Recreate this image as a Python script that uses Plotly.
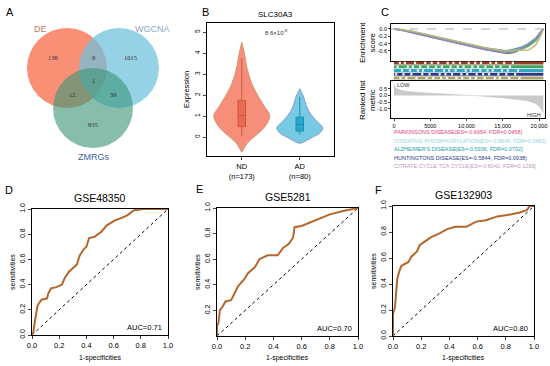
import plotly.graph_objects as go

W, H = 550, 366
def px(x): return x / W
def py(y): return 1 - y / H

FONT = "Liberation Sans"

# ---------------- Panel A: Venn ----------------
venn_sets = ["DE", "WGCNA", "ZMRGs"]
venn_region_counts = [138, 9, 1015, 1, 12, 39, 835]

# ---------------- Panel B: violin ----------------
groups = ["ND", "AD"]
group_n = [173, 80]
# density profile: expression level -> half width (px)
nd_levels = [-0.71, -0.56, -0.32, -0.08, 0.24, 0.63, 1.03, 1.43, 1.9, 2.54, 3.33, 3.97, 4.52]
nd_halfw = [0, 2, 5, 10, 18, 25, 28, 23, 17, 10, 5, 2.7, 0]
ad_levels = [-0.29, -0.16, 0.0, 0.19, 0.44, 0.71, 1.03, 1.43, 1.9, 2.3]
ad_halfw = [0, 7, 13, 20, 23, 18, 12, 7, 4, 0]
box_q1 = [0.5, 0.29]
box_median = [1.03, 0.6]
box_q3 = [1.75, 0.95]
box_low = [0.08, 0.13]
box_high = [3.73, 1.9]
p_value_text = "8.6×10<sup>-8</sup>"

# ---------------- Panel C: GSEA ----------------
gsea_names = ["PARKINSONS DISEASE", "OXIDATIVE PHOSPHORYLATION", "ALZHEIMER'S DISEASE",
              "HUNTINGTONS DISEASE", "CITRATE CYCLE TCA CYCLE"]
gsea_es = [-0.6654, -0.6646, -0.5936, -0.5844, -0.6042]
gsea_fdr = [0.0458, 0.0463, 0.0702, 0.0938, 0.1293]
es_ranks = [0, 1000, 2500, 5000, 7500, 10000, 12500, 15000, 15800, 16500, 17500, 18500, 19500, 20200, 20600]
es_curves = [
    [0, -0.03, -0.10, -0.22, -0.34, -0.45, -0.56, -0.65, -0.665, -0.64, -0.56, -0.45, -0.30, -0.12, 0.0],
    [0, -0.02, -0.08, -0.19, -0.31, -0.42, -0.53, -0.62, -0.64, -0.62, -0.55, -0.48, -0.33, -0.15, 0.0],
    [0, -0.02, -0.07, -0.18, -0.30, -0.41, -0.52, -0.58, -0.59, -0.55, -0.50, -0.42, -0.28, -0.10, 0.0],
    [0, -0.03, -0.09, -0.21, -0.33, -0.44, -0.55, -0.63, -0.62, -0.58, -0.52, -0.40, -0.26, -0.08, 0.0],
    [0, -0.01, -0.06, -0.17, -0.29, -0.40, -0.51, -0.59, -0.60, -0.58, -0.58, -0.58, -0.45, -0.20, 0.0],
]
hit_gaps = [
    [800, 1500, 2900, 4300, 5200, 6100, 7400, 8200, 9100, 10300, 11200, 12000, 13300, 14100, 15200, 16400],
    [500, 1900, 2600, 3600, 4700, 5800, 6600, 7800, 8800, 9600, 10800, 11600, 12600, 13800, 14700, 16000],
    [1100, 2200, 3300, 4000, 5500, 6900, 7600, 8500, 9900, 10600, 11900, 12900, 13600, 14900, 15700, 17100],
    [300, 1300, 2400, 3900, 4900, 6300, 7100, 8000, 9300, 10100, 11400, 12300, 13100, 14400, 15500, 16700],
    [900, 1700, 3100, 4500, 5400, 6500, 7300, 8600, 9400, 10500, 11300, 12500, 13900, 14600, 15900, 17300],
]
rank_x = [0, 200, 600, 1500, 3000, 5000, 7500, 10000, 11000, 12500, 15000, 17000, 18500, 19500, 20000, 20400, 20600]
rank_metric = [0.85, 0.6, 0.45, 0.33, 0.25, 0.17, 0.08, 0.02, 0.0, -0.05, -0.18, -0.3, -0.42, -0.6, -0.8, -1.1, -1.3]

# ---------------- Panels D-F: ROC ----------------
roc_titles = ["GSE48350", "GSE5281", "GSE132903"]
roc_auc = [0.71, 0.70, 0.80]
roc_fpr = [
    [0, 0.01, 0.02, 0.03, 0.04, 0.05, 0.07, 0.11, 0.12, 0.14, 0.18, 0.22, 0.24, 0.27, 0.30, 0.33, 0.35, 0.38, 0.40, 0.42, 0.46, 0.51, 0.55, 0.61, 0.66, 0.70, 0.75, 0.82, 1.0],
    [0, 0, 0.01, 0.02, 0.04, 0.06, 0.10, 0.13, 0.15, 0.19, 0.22, 0.27, 0.30, 0.36, 0.43, 0.47, 0.51, 0.54, 0.55, 0.60, 0.67, 0.74, 0.80, 0.91, 0.98, 1.0],
    [0, 0, 0.014, 0.02, 0.03, 0.045, 0.06, 0.11, 0.13, 0.17, 0.19, 0.23, 0.27, 0.33, 0.38, 0.44, 0.52, 0.59, 0.66, 0.74, 0.81, 0.90, 0.95, 0.97, 1.0],
]
roc_tpr = [
    [0, 0.02, 0.10, 0.16, 0.23, 0.25, 0.28, 0.29, 0.33, 0.37, 0.38, 0.40, 0.45, 0.50, 0.53, 0.56, 0.63, 0.68, 0.70, 0.77, 0.78, 0.82, 0.87, 0.91, 0.93, 0.95, 0.99, 1.0, 1.0],
    [0, 0.08, 0.10, 0.20, 0.23, 0.27, 0.28, 0.35, 0.39, 0.44, 0.49, 0.54, 0.60, 0.63, 0.63, 0.69, 0.72, 0.77, 0.85, 0.86, 0.89, 0.92, 0.95, 0.98, 1.0, 1.0],
    [0, 0.17, 0.22, 0.30, 0.44, 0.50, 0.54, 0.57, 0.61, 0.65, 0.70, 0.73, 0.76, 0.79, 0.82, 0.84, 0.84, 0.88, 0.89, 0.92, 0.93, 0.95, 0.97, 1.0, 1.0],
]

fig = go.Figure()
layout = dict(template="none", width=W, height=H, autosize=False,
              margin=dict(l=0, r=0, t=0, b=0, pad=0, autoexpand=False),
              paper_bgcolor="white", plot_bgcolor="white", showlegend=False,
              font=dict(family=FONT, color="black"))
shapes, annotations = [], []

def ann(x, y, text, size, color="black", ref=("paper", "paper"), **kw):
    fam = kw.pop("family", FONT)
    kw.setdefault("xanchor", "center")
    kw.setdefault("yanchor", "middle")
    annotations.append(dict(x=x, y=y, text=text, showarrow=False, xref=ref[0], yref=ref[1],
                            font=dict(size=size, color=color, family=fam), **kw))

AX = dict(automargin=False, showgrid=False, zeroline=False)

# ---------- A: Venn (axis 1, pixel-like coords) ----------
layout["xaxis"] = dict(domain=[0, px(180)], range=[0, 180], visible=False, fixedrange=True, **AX)
layout["yaxis"] = dict(domain=[py(180), py(0)], range=[180, 0], visible=False, fixedrange=True, **AX)
venn_circles = [((67, 68), "rgba(248,120,88,0.82)"), ((119, 68), "rgba(110,192,220,0.72)"),
                ((93, 108), "rgba(60,150,120,0.62)")]
for (cx, cy), col in venn_circles:
    shapes.append(dict(type="circle", xref="x", yref="y", x0=cx - 40, x1=cx + 40, y0=cy - 40, y1=cy + 40,
                       fillcolor=col, line=dict(width=0), layer="above"))
venn_label_pos = [(40, 29, "#C57A5E"), (152, 29, "#8FA6C8"), (93, 157, "#3F62A6")]
for name, (x, y, c) in zip(venn_sets, venn_label_pos):
    ann(x, y, name, 9, c, ref=("x", "y"))
count_pos = [(53, 57), (93, 57), (130, 57), (93, 80), (72, 94), (113, 94), (93, 124)]
for n, (x, y) in zip(venn_region_counts, count_pos):
    ann(x, y, str(n), 6.5, "#333333", ref=("x", "y"), family="Liberation Serif")

# ---------- B: violin (axis 2, boxes on overlaying axis 9) ----------
ppu = 58.0
vx_dom = [px(207), px(334)]
vy_dom = [py(156), py(23)]
vx_rng = [0.4, 2.59]
vy_rng = [-0.9, 5.43]
layout["xaxis2"] = dict(domain=vx_dom, range=vx_rng, anchor="y2",
                        tickvals=[1, 2], ticktext=[f"{g}<br>(n={n})" for g, n in zip(groups, group_n)],
                        showline=True, mirror=True, linecolor="black", linewidth=1, ticks="outside",
                        ticklen=3, tickfont=dict(size=7.5), **AX)
layout["yaxis2"] = dict(domain=vy_dom, range=vy_rng, anchor="x2",
                        tickvals=[0, 1, 2, 3, 4, 5], tickangle=-90, ticks="outside", ticklen=3,
                        tickfont=dict(size=6.5), showline=True, mirror=True, linecolor="black",
                        linewidth=1, **AX)
layout["xaxis9"] = dict(domain=vx_dom, range=vx_rng, anchor="y9", overlaying="x2", visible=False, **AX)
layout["yaxis9"] = dict(domain=vy_dom, range=vy_rng, anchor="x9", overlaying="y2", visible=False, **AX)
vio_styles = [("rgba(246,132,110,0.92)", "#CF9A72", "#EC6A50", "#C85A40"),
              ("rgba(108,198,224,0.92)", "#8C9AD0", "#27A8D0", "#1E8CB0")]
for i, (lev, hw) in enumerate([(nd_levels, nd_halfw), (ad_levels, ad_halfw)]):
    c = i + 1
    xs = [c + w / ppu for w in hw] + [c - w / ppu for w in hw[::-1]]
    ys = list(lev) + list(lev[::-1])
    fill, line, bfill, bline = vio_styles[i]
    fig.add_trace(go.Scatter(x=xs, y=ys, xaxis="x2", yaxis="y2", mode="lines", fill="toself",
                             fillcolor=fill, line=dict(color=line, width=1, shape="spline"), hoverinfo="skip"))
    fig.add_trace(go.Box(x=[c], q1=[box_q1[i]], median=[box_median[i]], q3=[box_q3[i]],
                         lowerfence=[box_low[i]], upperfence=[box_high[i]], xaxis="x9", yaxis="y9",
                         width=0.13, fillcolor=bfill, line=dict(color=bline, width=1), whiskerwidth=0))
ann(px(275), py(14), "SLC30A3", 8)
ann(1.59, 5.02, p_value_text, 6, "#333333", ref=("x2", "y2"))
ann(px(186), py(90), "Expression", 7.5, textangle=-90)

# ---------- C: GSEA (axes 3, 4, 5) ----------
xr = [-414, 20828]
layout["xaxis3"] = dict(domain=[px(391), px(545)], range=xr, anchor="y3", showticklabels=False,
                        showline=True, mirror=True, linecolor="black", linewidth=0.8, ticks="", **AX)
layout["yaxis3"] = dict(domain=[py(61), py(24)], range=[-0.873, 0.136], anchor="x3",
                        tickvals=[0, -0.2, -0.4, -0.6], ticktext=["0.0", "-0.2", "-0.4", "-0.6"],
                        tickfont=dict(size=5.5), ticks="outside", ticklen=2, showline=True, mirror=True,
                        linecolor="black", linewidth=0.8, **AX)
layout["xaxis4"] = dict(domain=[px(391), px(545)], range=xr, anchor="y4", visible=False, **AX)
layout["yaxis4"] = dict(domain=[py(80), py(61)], range=[5, 0], anchor="x4", visible=False, **AX)
layout["xaxis5"] = dict(domain=[px(391), px(545)], range=xr, anchor="y5",
                        tickvals=[0, 5000, 10000, 15000, 20000],
                        ticktext=["0", "5000", "10,000", "15,000", "20,000"], tickfont=dict(size=5.5),
                        ticks="outside", ticklen=2, showline=True, mirror=True, linecolor="black",
                        linewidth=0.8, **AX)
layout["yaxis5"] = dict(domain=[py(118), py(81)], range=[-1.69, 1.09], anchor="x5",
                        tickvals=[0.5, 0, -0.5, -1.0], ticktext=["0.5", "0.0", "-0.5", "-1.0"],
                        tickfont=dict(size=5.5), ticks="outside", ticklen=2, showline=True, mirror=True,
                        linecolor="black", linewidth=0.8, **AX)
shapes.append(dict(type="line", xref="x3", yref="y3", x0=xr[0], x1=xr[1], y0=0, y1=0,
                   line=dict(color="#999999", width=0.8, dash="dash")))
curve_colors = ["#5F64C0", "#6FB35E", "#3C9FA8", "#8E8FB8", "#C4B57C"]
for ys, col in zip(es_curves, curve_colors):
    fig.add_trace(go.Scatter(x=es_ranks, y=ys, xaxis="x3", yaxis="y3", mode="lines",
                             line=dict(color=col, width=1.6), opacity=0.9, hoverinfo="skip"))
row_colors = ["#9A3B25", "#3DA55E", "#2FA7C6", "#283A84", "#A7A36A"]
for r, (gaps, col) in enumerate(zip(hit_gaps, row_colors)):
    fig.add_trace(go.Scatter(x=[0, 20600], y=[r + 0.5, r + 0.5], xaxis="x4", yaxis="y4", mode="lines",
                             line=dict(color=col, width=3), hoverinfo="skip"))
    fig.add_trace(go.Scatter(x=gaps, y=[r + 0.5] * len(gaps), xaxis="x4", yaxis="y4", mode="markers",
                             marker=dict(symbol="square", color="white", size=2.2), hoverinfo="skip"))
fig.add_trace(go.Scatter(x=rank_x, y=rank_metric, xaxis="x5", yaxis="y5", mode="lines", fill="tozeroy",
                         fillcolor="#C9C9C9", line=dict(color="#C9C9C9", width=0.5), hoverinfo="skip"))
ann(1300, 0.82, "LOW", 5.5, "#333333", ref=("x5", "y5"))
ann(19300, -1.45, "HIGH", 5.5, "#333333", ref=("x5", "y5"))
ann(px(367), py(43), "Enrichment<br>score", 8, textangle=-90)
ann(px(367), py(100), "Ranked list<br>metric", 8, textangle=-90)
legend_colors = ["#E0457B", "#8FD6E4", "#1E9CAE", "#2B3A8A", "#B79AB8"]
for i, (nm, es, fdr, col) in enumerate(zip(gsea_names, gsea_es, gsea_fdr, legend_colors)):
    ann(px(392), py(132 + i * 8.5), f"{nm}(ES={es:.4f}, FDR={fdr:.4f})", 5.5, col, xanchor="left")

# ---------- D-F: ROC ----------
roc_dom = [((32, 168), (209, 335)), ((217, 358), (208, 336)), ((393, 534), (206, 336))]
panel_labels = [("A", 10, 12), ("B", 205, 12), ("C", 385, 12), ("D", 9, 190), ("E", 199, 189), ("F", 378, 190)]
for k in range(3):
    ax = 6 + k
    (x0, x1), (y0, y1) = roc_dom[k]
    yt = [0, 0.2, 0.4, 0.6, 0.8, 1.0] if k != 1 else [0.2, 0.4, 0.6, 0.8, 1.0]
    layout[f"xaxis{ax}"] = dict(domain=[px(x0), px(x1)], range=[0, 1], anchor=f"y{ax}",
                                tickvals=[0, 0.2, 0.4, 0.6, 0.8, 1.0], tickformat=".1f",
                                tickfont=dict(size=7.5), ticks="outside", ticklen=3, showline=True,
                                mirror=True, linecolor="black", linewidth=1.2, **AX)
    layout[f"yaxis{ax}"] = dict(domain=[py(y1), py(y0)], range=[0, 1], anchor=f"x{ax}",
                                tickvals=yt, tickformat=".1f", tickangle=-90, tickfont=dict(size=7),
                                ticks="outside", ticklen=3, showline=True, mirror=True, linecolor="black",
                                linewidth=1.2, **AX)
    fig.add_trace(go.Scatter(x=[0, 1], y=[0, 1], xaxis=f"x{ax}", yaxis=f"y{ax}", mode="lines",
                             line=dict(color="black", width=1, dash="dot"), hoverinfo="skip"))
    fig.add_trace(go.Scatter(x=roc_fpr[k], y=roc_tpr[k], xaxis=f"x{ax}", yaxis=f"y{ax}", mode="lines",
                             line=dict(color="#B5662A", width=2), hoverinfo="skip"))
    ann(px((x0 + x1) / 2), py(y0 - 11), roc_titles[k], 10.5)
    ann(px((x0 + x1) / 2), py(358), "1-specificities", 7)
    ann(px(x0 - 20), py((y0 + y1) / 2), "sensitivities", 7, textangle=-90)
    ann(0.97, 0.06, f"AUC={roc_auc[k]:.2f}", 7.5, ref=(f"x{ax}", f"y{ax}"), xanchor="right")

for t, x, y in panel_labels:
    ann(px(x), py(y), t, 11)

layout["shapes"] = shapes
layout["annotations"] = annotations
fig.update_layout(**layout)
fig.write_html("out.html", config={"displayModeBar": False},
               post_script="document.body.style.margin='0px';document.body.style.padding='0px';")
